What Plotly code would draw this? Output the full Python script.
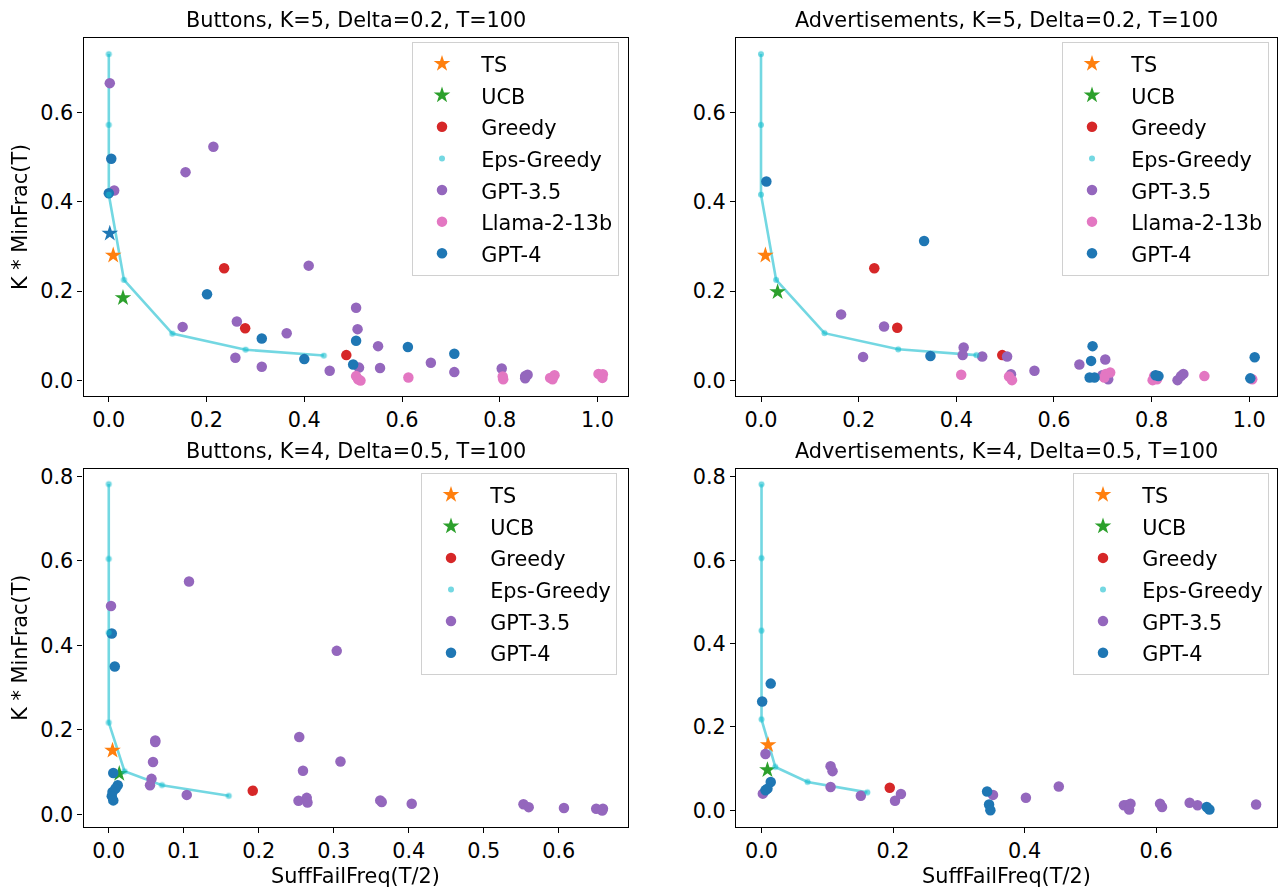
import plotly.graph_objects as go

# ---------------- Panel 1: Buttons, K=5, Delta=0.2 ----------------
p1_eps_x = [0.000, 0.000, 0.000, 0.031, 0.130, 0.280, 0.440]
p1_eps_y = [0.730, 0.572, 0.416, 0.225, 0.105, 0.069, 0.056]
p1_ts_x = [0.009]
p1_ts_y = [0.280]
p1_ucb_x = [0.029]
p1_ucb_y = [0.185]
p1_star4_x = [0.002]
p1_star4_y = [0.329]
p1_greedy_x = [0.236, 0.279, 0.486]
p1_greedy_y = [0.251, 0.117, 0.057]
p1_gpt35_x = [0.002, 0.011, 0.214, 0.157, 0.409, 0.262, 0.151, 0.364, 0.259, 0.313, 0.506,
              0.509, 0.551, 0.452, 0.512, 0.555, 0.659, 0.707, 0.804, 0.852, 0.857, 0.852]
p1_gpt35_y = [0.665, 0.425, 0.523, 0.466, 0.257, 0.132, 0.120, 0.106, 0.051, 0.031, 0.163,
              0.115, 0.077, 0.022, 0.029, 0.028, 0.040, 0.019, 0.027, 0.010, 0.013, 0.005]
p1_llama_x = [0.506, 0.510, 0.515, 0.613, 0.806, 0.807, 0.903, 0.912, 0.908, 1.002, 1.011, 1.010]
p1_llama_y = [0.010, 0.003, 0.000, 0.007, 0.009, 0.003, 0.006, 0.012, 0.003, 0.015, 0.014, 0.006]
p1_gpt4_x = [0.005, 0.000, 0.201, 0.313, 0.400, 0.506, 0.500, 0.612, 0.707]
p1_gpt4_y = [0.496, 0.419, 0.193, 0.094, 0.048, 0.089, 0.036, 0.075, 0.060]

# ---------------- Panel 2: Advertisements, K=5, Delta=0.2 ----------------
p2_eps_x = [0.000, 0.000, 0.000, 0.031, 0.130, 0.281, 0.441]
p2_eps_y = [0.730, 0.572, 0.416, 0.225, 0.106, 0.070, 0.057]
p2_ts_x = [0.009]
p2_ts_y = [0.280]
p2_ucb_x = [0.034]
p2_ucb_y = [0.198]
p2_greedy_x = [0.232, 0.279, 0.494]
p2_greedy_y = [0.251, 0.118, 0.057]
p2_gpt35_x = [0.164, 0.252, 0.209, 0.415, 0.413, 0.453, 0.504, 0.512, 0.560, 0.652, 0.705,
              0.699, 0.711, 0.810, 0.853, 0.860, 0.865]
p2_gpt35_y = [0.148, 0.121, 0.053, 0.074, 0.057, 0.054, 0.054, 0.014, 0.022, 0.036, 0.047,
              0.012, 0.003, 0.010, 0.001, 0.010, 0.015]
p2_llama_x = [0.410, 0.508, 0.514, 0.706, 0.715, 0.703, 0.805, 0.811, 0.802, 0.908, 1.006]
p2_llama_y = [0.013, 0.009, 0.001, 0.015, 0.018, 0.007, 0.010, 0.003, 0.001, 0.010, 0.003]
p2_gpt4_x = [0.011, 0.334, 0.347, 0.679, 0.676, 0.673, 0.683, 0.814, 0.808, 1.002, 1.011]
p2_gpt4_y = [0.445, 0.312, 0.055, 0.077, 0.044, 0.007, 0.007, 0.010, 0.012, 0.005, 0.052]

# ---------------- Panel 3: Buttons, K=4, Delta=0.5 ----------------
p3_eps_x = [0.000, 0.000, 0.000, 0.000, 0.021, 0.071, 0.160]
p3_eps_y = [0.782, 0.605, 0.430, 0.217, 0.102, 0.069, 0.044]
p3_ts_x = [0.005]
p3_ts_y = [0.151]
p3_ucb_x = [0.014]
p3_ucb_y = [0.096]
p3_greedy_x = [0.192]
p3_greedy_y = [0.056]
p3_gpt35_x = [0.003, 0.107, 0.304, 0.062, 0.062, 0.059, 0.057, 0.055, 0.104, 0.254, 0.259, 0.309,
              0.253, 0.264, 0.265, 0.362, 0.364, 0.404, 0.553, 0.560, 0.607, 0.650, 0.659, 0.658]
p3_gpt35_y = [0.493, 0.551, 0.387, 0.175, 0.171, 0.124, 0.084, 0.069, 0.046, 0.183, 0.103, 0.125,
              0.032, 0.039, 0.028, 0.033, 0.029, 0.025, 0.024, 0.017, 0.015, 0.013, 0.013, 0.009]
p3_gpt4_x = [0.004, 0.008, 0.006, 0.012, 0.009, 0.005, 0.004, 0.006]
p3_gpt4_y = [0.428, 0.350, 0.098, 0.069, 0.061, 0.053, 0.043, 0.033]

# ---------------- Panel 4: Advertisements, K=4, Delta=0.5 ----------------
p4_eps_x = [0.000, 0.000, 0.000, 0.000, 0.021, 0.070, 0.161]
p4_eps_y = [0.782, 0.605, 0.431, 0.218, 0.104, 0.068, 0.043]
p4_ts_x = [0.010]
p4_ts_y = [0.157]
p4_ucb_x = [0.009]
p4_ucb_y = [0.097]
p4_greedy_x = [0.195]
p4_greedy_y = [0.054]
p4_gpt35_x = [0.006, 0.002, 0.105, 0.108, 0.105, 0.151, 0.203, 0.212, 0.352, 0.402, 0.452,
              0.551, 0.555, 0.561, 0.559, 0.606, 0.609, 0.651, 0.663, 0.752]
p4_gpt35_y = [0.135, 0.040, 0.106, 0.094, 0.056, 0.035, 0.023, 0.039, 0.037, 0.030, 0.057,
              0.012, 0.012, 0.016, 0.002, 0.016, 0.008, 0.018, 0.012, 0.014]
p4_gpt4_x = [0.001, 0.014, 0.014, 0.009, 0.006, 0.343, 0.346, 0.348, 0.677, 0.681]
p4_gpt4_y = [0.261, 0.304, 0.068, 0.052, 0.048, 0.045, 0.014, 0.000, 0.008, 0.002]

titles = ["Buttons, K=5, Delta=0.2, T=100", "Advertisements, K=5, Delta=0.2, T=100",
          "Buttons, K=4, Delta=0.5, T=100", "Advertisements, K=4, Delta=0.5, T=100"]
x_label = "SuffFailFreq(T/2)"
y_label = "K * MinFrac(T)"

C_TS = "#ff7f0e"
C_UCB = "#2ca02c"
C_GREEDY = "#d62728"
C_EPS = "#17becf"
C_GPT35 = "#9467bd"
C_LLAMA = "#e377c2"
C_GPT4 = "#1f77b4"

FONT = "DejaVu Sans"
FS = 20.8
W, H = 1278, 894

panels = [
    dict(eps=(p1_eps_x, p1_eps_y), ts=(p1_ts_x, p1_ts_y), ucb=(p1_ucb_x, p1_ucb_y),
         greedy=(p1_greedy_x, p1_greedy_y), gpt35=(p1_gpt35_x, p1_gpt35_y),
         llama=(p1_llama_x, p1_llama_y), gpt4=(p1_gpt4_x, p1_gpt4_y),
         star4=(p1_star4_x, p1_star4_y)),
    dict(eps=(p2_eps_x, p2_eps_y), ts=(p2_ts_x, p2_ts_y), ucb=(p2_ucb_x, p2_ucb_y),
         greedy=(p2_greedy_x, p2_greedy_y), gpt35=(p2_gpt35_x, p2_gpt35_y),
         llama=(p2_llama_x, p2_llama_y), gpt4=(p2_gpt4_x, p2_gpt4_y)),
    dict(eps=(p3_eps_x, p3_eps_y), ts=(p3_ts_x, p3_ts_y), ucb=(p3_ucb_x, p3_ucb_y),
         greedy=(p3_greedy_x, p3_greedy_y), gpt35=(p3_gpt35_x, p3_gpt35_y),
         gpt4=(p3_gpt4_x, p3_gpt4_y)),
    dict(eps=(p4_eps_x, p4_eps_y), ts=(p4_ts_x, p4_ts_y), ucb=(p4_ucb_x, p4_ucb_y),
         greedy=(p4_greedy_x, p4_greedy_y), gpt35=(p4_gpt35_x, p4_gpt35_y),
         gpt4=(p4_gpt4_x, p4_gpt4_y)),
]

# pixel boxes of the axes (left, right, top, bottom)
boxes = [(83.5, 628, 34, 394), (736, 1277, 34, 394),
         (83.5, 628, 466.7, 826.7), (736, 1277, 466.7, 826.7)]
xranges = [[-0.0518, 1.0624], [-0.0512, 1.0567], [-0.0337, 0.6924], [-0.0388, 0.7838]]
yranges = [[-0.035, 0.7663], [-0.035, 0.7663], [-0.030, 0.8184], [-0.040, 0.8198]]
xdticks = [0.2, 0.2, 0.1, 0.2]
legend_pos = [(619, 38), (1269, 38), (617, 471), (1269, 471)]

PAD = '<span style="font-size:16px">\u00a0\u00a0</span>'

def lbl(s):
    return f'{PAD}<span style="font-size:{FS}px">{s}</span>'

fig = go.Figure()
layout = {}
for i, p in enumerate(panels):
    n = "" if i == 0 else str(i + 1)
    xa, ya = "x" + n, "y" + n
    lg = "legend" + n
    common = dict(xaxis=xa, yaxis=ya, legend=lg)
    fig.add_trace(go.Scatter(x=p["eps"][0], y=p["eps"][1], mode="lines",
                             line=dict(color=C_EPS, width=2.6), opacity=0.6,
                             showlegend=False, hoverinfo="skip", **common))
    fig.add_trace(go.Scatter(x=p["ts"][0], y=p["ts"][1], mode="markers", name=lbl("TS"),
                             marker=dict(symbol="star", size=12.5, color=C_TS, line=dict(width=0)),
                             legendrank=1, **common))
    fig.add_trace(go.Scatter(x=p["ucb"][0], y=p["ucb"][1], mode="markers", name=lbl("UCB"),
                             marker=dict(symbol="star", size=12.5, color=C_UCB, line=dict(width=0)),
                             legendrank=2, **common))
    fig.add_trace(go.Scatter(x=p["greedy"][0], y=p["greedy"][1], mode="markers", name=lbl("Greedy"),
                             marker=dict(symbol="circle", size=10.5, color=C_GREEDY, line=dict(width=0)),
                             legendrank=3, **common))
    fig.add_trace(go.Scatter(x=p["gpt35"][0], y=p["gpt35"][1], mode="markers", name=lbl("GPT-3.5"),
                             marker=dict(symbol="circle", size=10.5, color=C_GPT35, line=dict(width=0)),
                             legendrank=5, **common))
    if "llama" in p:
        fig.add_trace(go.Scatter(x=p["llama"][0], y=p["llama"][1], mode="markers", name=lbl("Llama-2-13b"),
                                 marker=dict(symbol="circle", size=10.5, color=C_LLAMA, line=dict(width=0)),
                                 legendrank=6, **common))
    fig.add_trace(go.Scatter(x=p["gpt4"][0], y=p["gpt4"][1], mode="markers", name=lbl("GPT-4"),
                             marker=dict(symbol="circle", size=10.5, color=C_GPT4, line=dict(width=0)),
                             legendrank=7, **common))
    if "star4" in p:
        fig.add_trace(go.Scatter(x=p["star4"][0], y=p["star4"][1], mode="markers",
                                 marker=dict(symbol="star", size=12.5, color=C_GPT4, line=dict(width=0)),
                                 showlegend=False, **common))
    fig.add_trace(go.Scatter(x=p["eps"][0], y=p["eps"][1], mode="markers", name=lbl("Eps-Greedy"),
                             marker=dict(symbol="circle", size=6, color=C_EPS, line=dict(width=0)),
                             opacity=0.6, legendrank=4, **common))

    l, r, t, b = boxes[i]
    axis_common = dict(showline=True, linecolor="black", linewidth=1.2, mirror=True,
                       ticks="outside", ticklen=5, tickwidth=1.2, tickcolor="black",
                       showgrid=False, zeroline=False, tickformat=".1f",
                       tickfont=dict(family=FONT, size=FS, color="black"))
    layout["xaxis" + n] = dict(domain=[l / W, r / W], range=xranges[i], anchor=ya,
                               tick0=0, dtick=xdticks[i], **axis_common)
    layout["yaxis" + n] = dict(domain=[1 - b / H, 1 - t / H], range=yranges[i], anchor=xa,
                               tick0=0, dtick=0.2, **axis_common)
    lx, ly = legend_pos[i]
    layout[lg] = dict(x=lx / W, y=1 - ly / H, xanchor="right", yanchor="top",
                      xref="paper", yref="paper",
                      bgcolor="rgba(255,255,255,0.8)", bordercolor="#d0d0d0", borderwidth=1,
                      font=dict(family=FONT, size=22, color="black"),
                      itemwidth=48, tracegroupgap=0, itemclick=False)

annotations = []
for i, (l, r, t, b) in enumerate(boxes):
    annotations.append(dict(text=titles[i], x=(l + r) / 2 / W, y=1 - (t - 18) / H,
                            xref="paper", yref="paper", xanchor="center", yanchor="middle",
                            showarrow=False, font=dict(family=FONT, size=FS, color="black")))
for i in (2, 3):
    l, r, t, b = boxes[i]
    annotations.append(dict(text=x_label, x=(l + r) / 2 / W, y=1 - 876 / H,
                            xref="paper", yref="paper", xanchor="center", yanchor="middle",
                            showarrow=False, font=dict(family=FONT, size=FS, color="black")))
for i in (0, 2):
    l, r, t, b = boxes[i]
    annotations.append(dict(text=y_label, x=20 / W, y=1 - (t + b) / 2 / H, textangle=-90,
                            xref="paper", yref="paper", xanchor="center", yanchor="middle",
                            showarrow=False, font=dict(family=FONT, size=FS, color="black")))

fig.update_layout(width=W, height=H, margin=dict(l=0, r=0, t=0, b=0),
                  paper_bgcolor="white", plot_bgcolor="white",
                  font=dict(family=FONT, size=FS, color="black"),
                  annotations=annotations, **layout)

fig.write_html("out.html", config={"displayModeBar": False},
               post_script="document.body.style.margin='0';document.body.style.overflow='hidden';")
